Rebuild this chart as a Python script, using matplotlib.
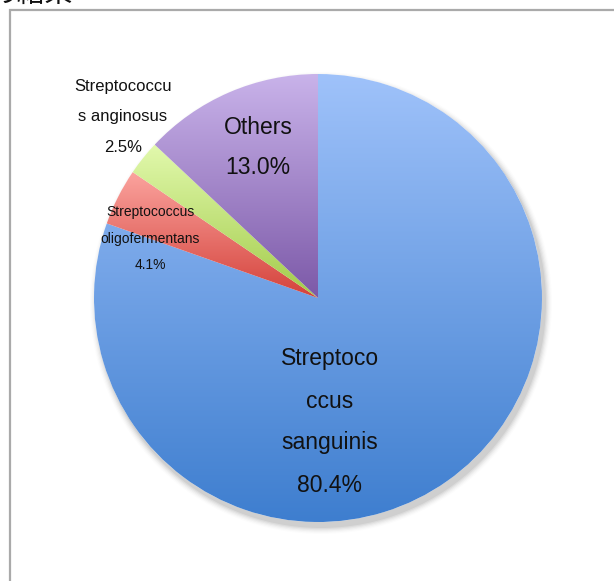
import numpy as np
import matplotlib
matplotlib.use("Agg")
import matplotlib.pyplot as plt
from matplotlib.colors import LinearSegmentedColormap
from matplotlib.patches import Circle

plt.rcParams['font.family'] = ['Liberation Sans', 'Noto Sans CJK JP', 'DejaVu Sans']

# Species share of isolates (percent)
species = ["Streptococcus sanguinis", "Streptococcus oligofermentans",
           "Streptococcus anginosus", "Others"]
shares = [80.4, 4.1, 2.5, 13.0]
# gradient (top colour, bottom colour) for each slice
top_colors = ["#9fc2fa", "#fba39e", "#e2f9ad", "#c9b3ea"]
bottom_colors = ["#3e7ecf", "#d4423b", "#a2cb4a", "#7c59a8"]

W, H = 614, 581
fig = plt.figure(figsize=(W / 100, H / 100), dpi=100)
ax = fig.add_axes([0, 0, 1, 1])

cx, cy, r = 318, 283, 224

# soft drop shadow under the pie
for i, a in enumerate(np.linspace(0.05, 0.012, 6)):
    ax.add_patch(Circle((cx + 3, cy - 5), r + 1 + i * 1.2, color='#000000',
                        alpha=a, lw=0, zorder=1))
ax.add_patch(Circle((cx, cy), r, color='white', lw=0, zorder=1.5))

wedges, _ = ax.pie(shares, startangle=90, counterclock=False,
                   center=(cx, cy), radius=r, frame=True,
                   wedgeprops=dict(linewidth=0, zorder=2))

grad = np.linspace(0, 1, 256).reshape(-1, 1)
for w, c0, c1 in zip(wedges, top_colors, bottom_colors):
    w.set_facecolor('none')
    bb = w.get_path().get_extents(w.get_patch_transform())
    cmap = LinearSegmentedColormap.from_list('g', [c0, c1])
    im = ax.imshow(grad, cmap=cmap, aspect='auto', origin='upper',
                   extent=(bb.x0, bb.x1, bb.y0, bb.y1), zorder=2,
                   interpolation='bilinear')
    im.set_clip_path(w)

ax.set_xlim(0, W)
ax.set_ylim(0, H)
ax.set_aspect('equal')
ax.axis('off')


def lines(x, ys, texts, size):
    for y, t in zip(ys, texts):
        ax.text(x, H - y, t, ha='center', va='center', fontsize=size,
                color='#111111', zorder=5)


pct = [f"{v:.1f}%" for v in shares]
lines(330, [358, 401, 443, 486], ["Streptoco", "ccus", "sanguinis", pct[0]], 16.5)
lines(150, [212, 239, 265], ["Streptococcus", "oligofermentans", pct[1]], 10)
lines(123, [87, 117, 147], ["Streptococcu", "s anginosus", pct[2]], 12)
lines(258, [127, 168], ["Others", pct[3]], 16.5)

# page frame and clipped heading
ax.plot([10, 10, W], [0, H - 10, H - 10], color='#aaaaaa', lw=1.6,
        solid_joinstyle='miter', zorder=6)
ax.text(73, H - 2, "の結果", ha='right', va='baseline', fontsize=20,
        family=['Noto Sans CJK JP'], color='#111111', zorder=6)

fig.savefig("out.png", dpi=100)
